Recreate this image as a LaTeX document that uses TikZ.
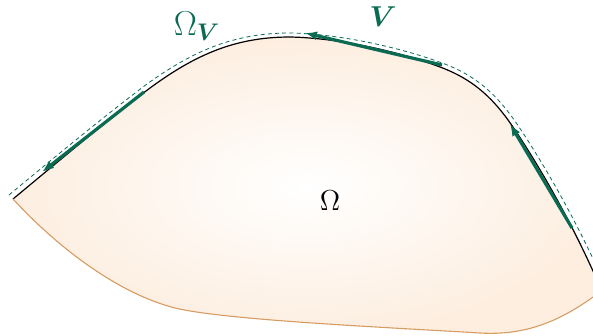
\documentclass[tikz,border=0pt]{standalone}
\usepackage{amsmath,amssymb,bm}
\usetikzlibrary{arrows.meta}
\definecolor{vgreen}{HTML}{0B6A52}
\definecolor{peach}{HTML}{FDEEE0}
\definecolor{rim}{HTML}{D69C62}
\tikzset{
  border/.style={draw=black, line width=0.6pt},
  rimline/.style={draw=rim, line width=0.55pt},
  flowarrow/.style={-{Latex[length=6pt,width=4.5pt]}, line width=1.6pt, draw=vgreen},
  vband/.style={draw=vgreen, dash pattern=on 2pt off 1.6pt, line width=0.4pt},
  vlabel/.style={text=vgreen, font=\Large},
  domlabel/.style={text=black, font=\Large}
}

\begin{document}
\begin{tikzpicture}[x=0.5pt, y=-0.5pt]
\useasboundingbox (0,0) rectangle (593,336);
\clip (0,0) rectangle (593,336);
% corners of the domain
\coordinate (sw) at (13,199);
\coordinate (se) at (597,280);
% the domain Omega
\shade[inner color=white, outer color=peach]
  (sw) .. controls (60,160) and (110,118) .. (150,88)
       .. controls (195,55) and (235,37) .. (290,37)
       .. controls (340,38) and (400,52) .. (440,67)
       .. controls (475,80) and (495,100) .. (515,130)
       .. controls (545,175) and (575,230) .. (se)
  -- (600,292)
       .. controls (565,318) and (530,336) .. (480,333)
       .. controls (380,327) and (225,320) .. (175,308)
       .. controls (120,294) and (60,250) .. (sw) -- cycle;
% upper boundary
\draw[border] (sw) .. controls (60,160) and (110,118) .. (150,88)
       .. controls (195,55) and (235,37) .. (290,37)
       .. controls (340,38) and (400,52) .. (440,67)
       .. controls (475,80) and (495,100) .. (515,130)
       .. controls (545,175) and (575,230) .. (se);
% lower boundary
\draw[rimline] (600,292)
       .. controls (565,318) and (530,336) .. (480,333)
       .. controls (380,327) and (225,320) .. (175,308)
       .. controls (120,294) and (60,250) .. (sw);
% the band Omega_V
\draw[vband] (9,195) .. controls (56,156) and (107,114) .. (147,84)
       .. controls (193,51) and (234,33) .. (290,33)
       .. controls (341,34) and (402,48) .. (442,63)
       .. controls (478,76) and (499,97) .. (519,127)
       .. controls (549,172) and (579,227) .. (601,276);
% tangent fields
\coordinate (l1) at (144,92);  \coordinate (l2) at (42,172);
\coordinate (t1) at (442,65);  \coordinate (t2) at (305,33);
\coordinate (r1) at (572,228); \coordinate (r2) at (510,124);
\draw[flowarrow] (l1) -- (l2);
\draw[flowarrow] (t1) -- (t2);
\draw[flowarrow] (r1) -- (r2);
% labels
\node[vlabel, font=\LARGE] (omv) at (197,26) {$\Omega_{\bm{V}}$};
\node[vlabel] (vv) at (383,17) {$\bm{V}$};
\node[domlabel] (om) at (330,201) {$\Omega$};
\end{tikzpicture}
\end{document}
